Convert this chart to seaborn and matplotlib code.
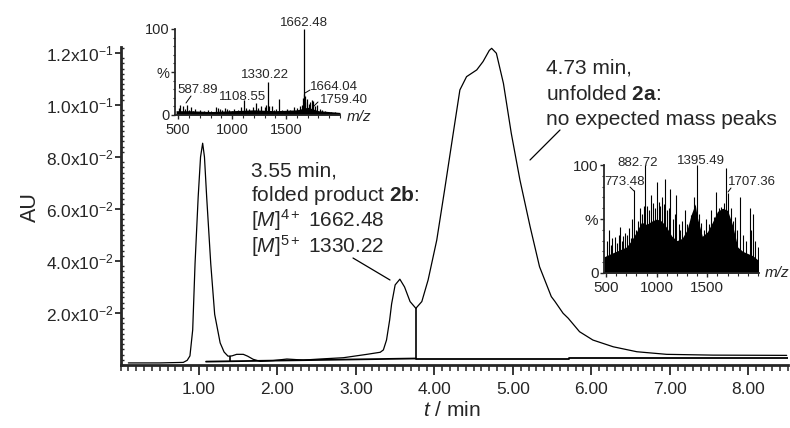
import numpy as np
import pandas as pd
import matplotlib
matplotlib.use("Agg")
import matplotlib.pyplot as plt
import seaborn as sns
from matplotlib.lines import Line2D
from matplotlib.ticker import FixedLocator, FixedFormatter, MultipleLocator

# --- chromatogram trace (t in min, absorbance in AU) ---
trace_t = [0.10, 0.50, 0.80, 0.85, 0.885, 0.92, 0.95, 0.99, 1.02, 1.047, 1.07, 1.098,
           1.15, 1.20, 1.27, 1.32, 1.37, 1.42, 1.48, 1.565, 1.62, 1.69, 1.78, 1.95,
           2.12, 2.33, 2.54, 2.84, 3.14, 3.31, 3.35, 3.39, 3.43, 3.455, 3.50, 3.56,
           3.62, 3.69, 3.764, 3.84, 3.92, 4.03, 4.13, 4.24, 4.325, 4.41, 4.54, 4.62,
           4.70, 4.73, 4.79, 4.88, 4.98, 5.09, 5.22, 5.34, 5.49, 5.535, 5.64, 5.705,
           5.85, 6.02, 6.28, 6.58, 6.96, 7.55, 8.49]
trace_au = [0.0008, 0.0008, 0.0010, 0.0018, 0.0035, 0.0135, 0.0390, 0.0647, 0.0800, 0.0853, 0.0800, 0.0647,
            0.0390, 0.0195, 0.0085, 0.0050, 0.0034, 0.0035, 0.0041, 0.0041, 0.0034, 0.0022, 0.0014, 0.0017,
            0.0023, 0.0019, 0.0023, 0.0028, 0.0041, 0.0049, 0.0058, 0.0096, 0.0173, 0.0235, 0.0308, 0.0330,
            0.0300, 0.0244, 0.0218, 0.0244, 0.0327, 0.0480, 0.0673, 0.0891, 0.1058, 0.1109, 0.1135, 0.1167,
            0.1210, 0.1218, 0.1199, 0.1083, 0.0891, 0.0712, 0.0532, 0.0378, 0.0263, 0.0245, 0.0199, 0.0180,
            0.0128, 0.0096, 0.0070, 0.0051, 0.0041, 0.0038, 0.0037]

# integration baselines and drop lines
base1_t = [1.09, 3.764]
base1_au = [0.0013, 0.0025]
base2_t = [3.764, 5.72, 5.72, 8.50]
base2_au = [0.0022, 0.0022, 0.0027, 0.0027]
drop_t = [1.39, 3.764]
drop_top = [0.0033, 0.0218]
drop_bot = [0.0016, 0.0022]

y_ticks = [0.02, 0.04, 0.06, 0.08, 0.10, 0.12]
y_labels = [r"2.0x10$^{\mathregular{-2}}$", r"4.0x10$^{\mathregular{-2}}$", r"6.0x10$^{\mathregular{-2}}$",
            r"8.0x10$^{\mathregular{-2}}$", r"1.0x10$^{\mathregular{-1}}$", r"1.2x10$^{\mathregular{-1}}$"]
x_ticks = [1, 2, 3, 4, 5, 6, 7, 8]
x_labels = ["1.00", "2.00", "3.00", "4.00", "5.00", "6.00", "7.00", "8.00"]

# --- MS of peak at 3.55 min (m/z, rel. intensity %) ---
ms1_mz = [505, 520, 540, 560, 577, 600, 620, 640, 660, 680, 700, 720, 740, 760, 780, 800, 820,
          850, 870, 890, 910, 930, 950, 975, 1000, 1020, 1050, 1080, 1111, 1130, 1160, 1190,
          1219, 1240, 1270, 1300, 1315, 1330, 1345, 1365, 1390, 1410, 1435, 1460, 1490, 1510,
          1540, 1570, 1600, 1625, 1645, 1655, 1662, 1667, 1672, 1680, 1694, 1710, 1725, 1740,
          1750, 1765, 1790, 1810, 1830, 1860, 1890, 1920, 1950, 1980]
ms1_int = [8, 12, 10, 7, 12, 6, 9, 5, 7, 4, 6, 3, 5, 4, 6, 5, 4,
           9, 8, 7, 6, 8, 7, 6, 5, 7, 6, 9, 17, 8, 7, 9,
           14, 8, 10, 9, 12, 38, 10, 11, 6, 7, 19, 6, 5, 7,
           6, 9, 8, 10, 12, 20, 100, 25, 22, 15, 19, 13, 15, 17,
           16, 10, 12, 7, 6, 5, 4, 3, 3, 2]
ms1_base_mz = [480, 600, 800, 1000, 1200, 1400, 1600, 1700, 1800, 2000]
ms1_base_int = [5, 5, 4, 5, 6, 5, 6, 9, 5, 3]

# --- MS of peak at 4.73 min ---
ms2_env_mz = [480, 550, 600, 650, 700, 750, 800, 850, 900, 950, 1000, 1050, 1100, 1150, 1200, 1250,
              1300, 1340, 1380, 1400, 1450, 1500, 1550, 1600, 1650, 1700, 1750, 1800, 1850, 1900,
              1950, 2000]
ms2_env_int = [15, 18, 20, 22, 24, 30, 38, 47, 45, 48, 50, 48, 42, 34, 30, 32,
               40, 54, 64, 52, 34, 38, 47, 57, 60, 58, 44, 24, 20, 18,
               16, 12]
ms2_mz = [510, 528, 545, 560, 587, 610, 625, 636, 660, 672, 686, 710, 730, 745, 757, 773, 800,
          818, 833, 860, 870, 882, 905, 920, 939, 960, 985, 1004, 1018, 1030, 1055, 1068, 1080,
          1100, 1120, 1136, 1160, 1180, 1195, 1220, 1235, 1250, 1277, 1300, 1320, 1343, 1370,
          1395, 1420, 1440, 1470, 1491, 1520, 1540, 1565, 1590, 1615, 1639, 1660, 1688, 1707,
          1730, 1750, 1770, 1795, 1820, 1850, 1880, 1918, 1935, 1951, 1975, 2005]
ms2_int = [30, 40, 26, 32, 33, 28, 35, 43, 30, 34, 37, 35, 42, 32, 50, 77, 40,
           48, 60, 55, 62, 100, 62, 58, 72, 65, 60, 84, 66, 62, 70, 64, 87,
           58, 60, 78, 50, 55, 72, 45, 40, 48, 58, 45, 42, 54, 70,
           100, 55, 46, 40, 50, 45, 58, 52, 75, 60, 61, 65, 97, 74,
           60, 48, 52, 40, 70, 35, 30, 60, 40, 55, 30, 24]

W, H = 790, 428
sns.set_theme(style="ticks")
plt.rcParams["font.family"] = ["Liberation Sans", "DejaVu Sans"]
plt.rcParams["mathtext.fontset"] = "custom"
plt.rcParams["mathtext.rm"] = "Liberation Sans"
plt.rcParams["mathtext.it"] = "Liberation Sans:italic"
plt.rcParams["mathtext.bf"] = "Liberation Sans:bold"

fig = plt.figure(figsize=(W / 100, H / 100), dpi=100)


def px_axes(l, t, r, b):
    return fig.add_axes([l / W, 1 - b / H, (r - l) / W, (b - t) / H])


def px_text(x, y, s, **kw):
    fig.text(x / W, 1 - y / H, s, **kw)


def px_line(x0, y0, x1, y1, lw=0.9):
    fig.add_artist(Line2D([x0 / W, x1 / W], [1 - y0 / H, 1 - y1 / H], color="black", lw=lw))


# main chromatogram
ax = px_axes(120.5, 46.5, 787.5, 365)
df = pd.DataFrame({"t": trace_t, "AU": trace_au})
sns.lineplot(data=df, x="t", y="AU", ax=ax, color="black", lw=0.9)
ax.plot(base1_t, base1_au, color="black", lw=1.3)
ax.plot(base2_t, base2_au, color="black", lw=1.3)
ax.vlines(drop_t, drop_bot, drop_top, color="black", lw=1.2)

ax.set_xlim(0, 8.5)
ax.set_ylim(0, 0.1225)
ax.xaxis.set_major_locator(FixedLocator(x_ticks))
ax.xaxis.set_major_formatter(FixedFormatter(x_labels))
ax.xaxis.set_minor_locator(MultipleLocator(0.1))
ax.yaxis.set_major_locator(FixedLocator(y_ticks))
ax.yaxis.set_major_formatter(FixedFormatter(y_labels))
ax.yaxis.set_minor_locator(MultipleLocator(0.002))
ax.tick_params(axis="x", which="major", direction="out", length=7, width=1.3, labelsize=12.5, pad=5)
ax.tick_params(axis="x", which="minor", direction="out", length=4, width=1.1)
ax.tick_params(axis="y", which="major", direction="out", length=4, width=1.3, labelsize=12.5, pad=1)
ax.tick_params(axis="y", which="minor", direction="in", length=2.5, width=1.0)
for s in ["top", "right"]:
    ax.spines[s].set_visible(False)
for s in ["left", "bottom"]:
    ax.spines[s].set_linewidth(2.0)
ax.set_xlabel("")
ax.set_ylabel("")
ax.set_facecolor("white")
px_text(30, 207, "AU", rotation=90, ha="center", va="center", fontsize=15.5)
px_text(452, 411, r"$t$ / min", ha="center", va="center", fontsize=15)

# annotations
ann1 = ["3.55 min,", r"folded product $\mathbf{2b}$:",
        r"[$M$]$^{\mathregular{4+}}$ 1662.48", r"[$M$]$^{\mathregular{5+}}$ 1330.22"]
for i, s in enumerate(ann1):
    px_text(251, 176 + 25.5 * i, s, ha="left", va="baseline", fontsize=15)
px_line(353, 258, 390, 280)

ann2 = ["4.73 min,", r"unfolded $\mathbf{2a}$:", "no expected mass peaks"]
for i, s in enumerate(ann2):
    px_text(546, 74 + 25.5 * i, s, ha="left", va="baseline", fontsize=15)
px_line(560, 130, 530, 160)


def style_inset(a, xlim, tsize):
    a.set_xlim(*xlim)
    a.set_ylim(0, 100)
    a.set_facecolor("none")
    for s in ["top", "right"]:
        a.spines[s].set_visible(False)
    for s in ["left", "bottom"]:
        a.spines[s].set_linewidth(1.3)
    a.xaxis.set_major_locator(FixedLocator([500, 1000, 1500]))
    a.xaxis.set_minor_locator(MultipleLocator(100))
    a.yaxis.set_major_locator(FixedLocator([0, 50, 100]))
    a.yaxis.set_major_formatter(FixedFormatter(["0", "%", "100"]))
    a.yaxis.set_minor_locator(MultipleLocator(10))
    a.tick_params(which="major", direction="out", length=3, width=1.0, labelsize=tsize, pad=1)
    a.tick_params(axis="x", which="major", pad=2.5)
    a.tick_params(which="minor", direction="out", length=1.8, width=0.8)
    a.set_xlabel("")
    a.set_ylabel("")


# inset 1: MS of the 3.55 min peak
ax1 = px_axes(175, 29, 340, 115)
ax1.fill_between(ms1_base_mz, 0, ms1_base_int, color="black", lw=0)
ax1.vlines(ms1_mz, 0, ms1_int, color="black", lw=0.9)
style_inset(ax1, (470, 2000), 10.5)
px_text(359, 117, "m/z", style="italic", ha="center", va="center", fontsize=11)
px_text(304, 23, "1662.48", ha="center", va="center", fontsize=9.5)
px_text(265, 75, "1330.22", ha="center", va="center", fontsize=9.5)
px_text(198, 90, "587.89", ha="center", va="center", fontsize=9.5)
px_line(191, 96, 186, 103, lw=0.7)
px_text(243, 97, "1108.55", ha="center", va="center", fontsize=9.5)
px_text(334, 87, "1664.04", ha="center", va="center", fontsize=9.5)
px_line(310, 90, 305, 93, lw=0.7)
px_text(344, 100, "1759.40", ha="center", va="center", fontsize=9.5)
px_line(318, 102, 313, 107, lw=0.7)

# inset 2: MS of the 4.73 min peak
ax2 = px_axes(604, 165, 759, 273)
ax2.fill_between(ms2_env_mz, 0, ms2_env_int, color="black", lw=0)
ax2.vlines(ms2_mz, 0, ms2_int, color="black", lw=0.8)
style_inset(ax2, (480, 2010), 11)
px_text(777, 273, "m/z", style="italic", ha="center", va="center", fontsize=11)
px_text(638, 163, "882.72", ha="center", va="center", fontsize=9.5)
px_text(625, 182, "773.48", ha="center", va="center", fontsize=9.5)
px_line(630, 187, 634, 191, lw=0.7)
px_text(701, 161, "1395.49", ha="center", va="center", fontsize=9.5)
px_text(752, 182, "1707.36", ha="center", va="center", fontsize=9.5)
px_line(731, 188, 728, 192, lw=0.7)

fig.savefig("out.png", dpi=100, facecolor="white")
